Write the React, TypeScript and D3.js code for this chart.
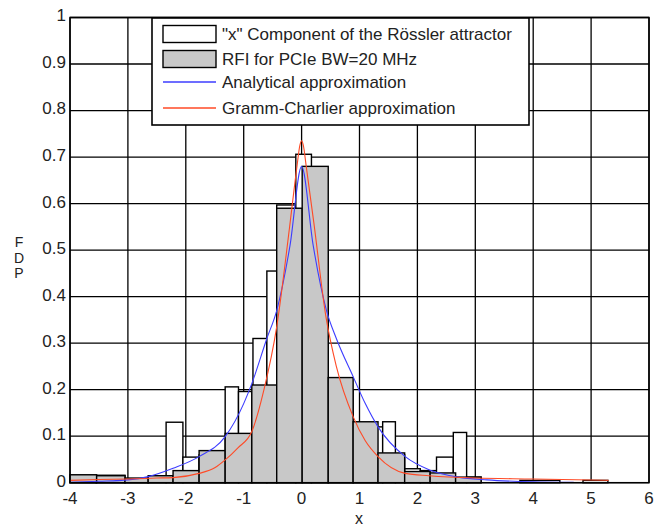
import React, { useEffect, useRef } from 'react';
import * as d3 from 'd3';

const W = 655, H = 529;

// axis ticks
const xTicks = [-4, -3, -2, -1, 0, 1, 2, 3, 4, 5, 6];
const yTicks = [0, 0.1, 0.2, 0.3, 0.4, 0.5, 0.6, 0.7, 0.8, 0.9, 1];

// RFI for PCIe histogram (gray)
const grayEdges = [-4, -3.54, -3.05, -2.65, -2.22, -1.77, -1.32, -0.86, -0.43, 0.01, 0.46, 0.89, 1.32, 1.78, 2.22, 2.66, 3.1];
const grayHeights = [0.017, 0.015, 0.01, 0.015, 0.026, 0.069, 0.106, 0.21, 0.59, 0.68, 0.226, 0.131, 0.064, 0.024, 0.021, 0.012];

// "x" component of the Rossler attractor histogram (white)
const whiteX0 = [-4, -3.55, -3.05, -2.65, -2.34, -2.05, -1.77, -1.32, -1.09, -0.84, -0.6, -0.43, -0.1, 0.17, 0.46, 0.89, 1.4, 1.62, 1.78, 2.05, 2.33, 2.62, 2.85, 3.77, 4.86];
const whiteX1 = [-3.55, -3.05, -2.65, -2.34, -2.05, -1.77, -1.32, -1.09, -0.86, -0.6, -0.43, -0.1, 0.17, 0.46, 0.89, 1.4, 1.62, 1.78, 2.05, 2.33, 2.62, 2.85, 3.1, 4.46, 5.29];
const whiteY = [0.016, 0.016, 0.008, 0.012, 0.13, 0.055, 0.06, 0.206, 0.196, 0.31, 0.455, 0.597, 0.706, 0.6, 0.2, 0.12, 0.131, 0.06, 0.03, 0.026, 0.055, 0.108, 0.012, 0.005, 0.005];

// Analytical approximation (blue)
const blueX = [-4, -3.5, -3, -2.65, -2.22, -1.77, -1.32, -1, -0.86, -0.6, -0.43, -0.2, 0, 0.2, 0.43, 0.6, 0.89, 1.1, 1.32, 1.79, 2.22, 2.7, 3.2, 4, 4.7];
const blueY = [0.001, 0.003, 0.006, 0.013, 0.031, 0.056, 0.099, 0.17, 0.213, 0.31, 0.37, 0.51, 0.68, 0.51, 0.37, 0.31, 0.228, 0.17, 0.12, 0.056, 0.027, 0.012, 0.006, 0.002, 0.001];

// Gramm-Charlier approximation (red)
const redX = [-4, -3.5, -3, -2.5, -2.22, -1.77, -1.5, -1.32, -1.1, -0.86, -0.65, -0.43, -0.21, -0.08, -0.03, 0, 0.03, 0.08, 0.21, 0.42, 0.6, 0.89, 1.1, 1.32, 1.79, 2.2, 3, 4, 5.3];
const redY = [0.005, 0.007, 0.008, 0.01, 0.011, 0.02, 0.032, 0.049, 0.075, 0.11, 0.2, 0.335, 0.547, 0.68, 0.725, 0.735, 0.725, 0.68, 0.56, 0.357, 0.25, 0.142, 0.09, 0.056, 0.02, 0.015, 0.01, 0.008, 0.005];

const legendLabels = [
  '"x" Component of the Rössler attractor',
  'RFI for PCIe BW=20 MHz',
  'Analytical approximation',
  'Gramm-Charlier approximation',
];

const BLUE = '#3c3cff';
const RED = '#ff4a26';
const GRAY = '#c8c8c8';
const FONT = '"Liberation Sans", Arial, Helvetica, sans-serif';
const FS = 17;

function drawChart(node: SVGSVGElement) {
  const svg = d3.select(node);
  svg.selectAll('*').remove();

  const x = d3.scaleLinear().domain([-4, 6]).range([70, 649]);
  const y = d3.scaleLinear().domain([0, 1]).range([482.7, 17.5]);

  svg.append('rect').attr('width', W).attr('height', H).attr('fill', 'white');

  // grid
  const grid = svg.append('g').attr('stroke', '#000').attr('stroke-width', 1.3);
  grid.selectAll('line.v').data(xTicks).enter().append('line')
    .attr('x1', d => x(d)).attr('x2', d => x(d))
    .attr('y1', y(0)).attr('y2', y(1));
  grid.selectAll('line.h').data(yTicks).enter().append('line')
    .attr('x1', x(-4)).attr('x2', x(6))
    .attr('y1', d => y(d)).attr('y2', d => y(d));

  // white histogram
  svg.append('g').selectAll('rect').data(whiteY).enter().append('rect')
    .attr('x', (d, i) => x(whiteX0[i]))
    .attr('width', (d, i) => x(whiteX1[i]) - x(whiteX0[i]))
    .attr('y', d => y(d))
    .attr('height', d => y(0) - y(d))
    .attr('fill', 'white').attr('stroke', '#000').attr('stroke-width', 1.4);

  // gray histogram
  svg.append('g').selectAll('rect').data(grayHeights).enter().append('rect')
    .attr('x', (d, i) => x(grayEdges[i]))
    .attr('width', (d, i) => x(grayEdges[i + 1]) - x(grayEdges[i]))
    .attr('y', d => y(d))
    .attr('height', d => y(0) - y(d))
    .attr('fill', GRAY).attr('stroke', '#000').attr('stroke-width', 1.4);

  // curves
  const line = d3.line<[number, number]>()
    .x(d => x(d[0])).y(d => y(d[1]))
    .curve(d3.curveMonotoneX);
  svg.append('path')
    .attr('d', line(blueX.map((v, i) => [v, blueY[i]] as [number, number])))
    .attr('fill', 'none').attr('stroke', BLUE).attr('stroke-width', 1.1);
  svg.append('path')
    .attr('d', line(redX.map((v, i) => [v, redY[i]] as [number, number])))
    .attr('fill', 'none').attr('stroke', RED).attr('stroke-width', 1.1);

  // frame
  svg.append('rect')
    .attr('x', x(-4)).attr('y', y(1))
    .attr('width', x(6) - x(-4)).attr('height', y(0) - y(1))
    .attr('fill', 'none').attr('stroke', '#000').attr('stroke-width', 1.5);

  // tick labels
  svg.append('g').selectAll('text').data(yTicks).enter().append('text')
    .attr('x', 66).attr('y', d => y(d) - 2)
    .attr('dy', '0.35em')
    .attr('text-anchor', 'end')
    .attr('font-family', FONT).attr('font-size', FS).attr('fill', '#222')
    .text(d => d3.format('~g')(d));
  svg.append('g').selectAll('text').data(xTicks).enter().append('text')
    .attr('x', d => x(d)).attr('y', 498)
    .attr('dy', '0.35em')
    .attr('text-anchor', 'middle')
    .attr('font-family', FONT).attr('font-size', FS).attr('fill', '#222')
    .text(d => String(d));

  // axis labels
  svg.append('text')
    .attr('x', 359).attr('y', 524)
    .attr('text-anchor', 'middle')
    .attr('font-family', FONT).attr('font-size', 16).attr('fill', '#222')
    .text('x');
  svg.append('g').selectAll('text').data(['F', 'D', 'P']).enter().append('text')
    .attr('x', 19).attr('y', (d, i) => 242 + i * 15.7).attr('dy', '0.35em')
    .attr('text-anchor', 'middle')
    .attr('font-family', FONT).attr('font-size', 14).attr('fill', '#222')
    .text(d => d);

  // legend
  const lg = svg.append('g');
  lg.append('rect')
    .attr('x', 152).attr('y', 18).attr('width', 377).attr('height', 107)
    .attr('fill', 'white').attr('stroke', '#000').attr('stroke-width', 1.6);
  const rowY = [34, 59, 82, 108];
  lg.append('rect').attr('x', 163).attr('y', rowY[0] - 8.5).attr('width', 53).attr('height', 17)
    .attr('fill', 'white').attr('stroke', '#000').attr('stroke-width', 1.4);
  lg.append('rect').attr('x', 163).attr('y', rowY[1] - 8.5).attr('width', 53).attr('height', 17)
    .attr('fill', GRAY).attr('stroke', '#000').attr('stroke-width', 1.4);
  lg.append('line').attr('x1', 163).attr('x2', 216).attr('y1', rowY[2]).attr('y2', rowY[2])
    .attr('stroke', BLUE).attr('stroke-width', 1.3);
  lg.append('line').attr('x1', 163).attr('x2', 216).attr('y1', rowY[3]).attr('y2', rowY[3])
    .attr('stroke', RED).attr('stroke-width', 1.3);
  lg.selectAll('text.l').data(legendLabels).enter().append('text')
    .attr('x', 222).attr('y', (d, i) => rowY[i]).attr('dy', '0.35em')
    .attr('font-family', FONT).attr('font-size', FS).attr('fill', '#222')
    .text(d => d);
}

export default function App() {
  const ref = useRef<SVGSVGElement>(null);
  useEffect(() => {
    if (ref.current) drawChart(ref.current);
  }, []);
  return (
    <svg ref={ref} width={W} height={H}
      style={{ position: 'absolute', left: 0, top: 0, display: 'block' }} />
  );
}
